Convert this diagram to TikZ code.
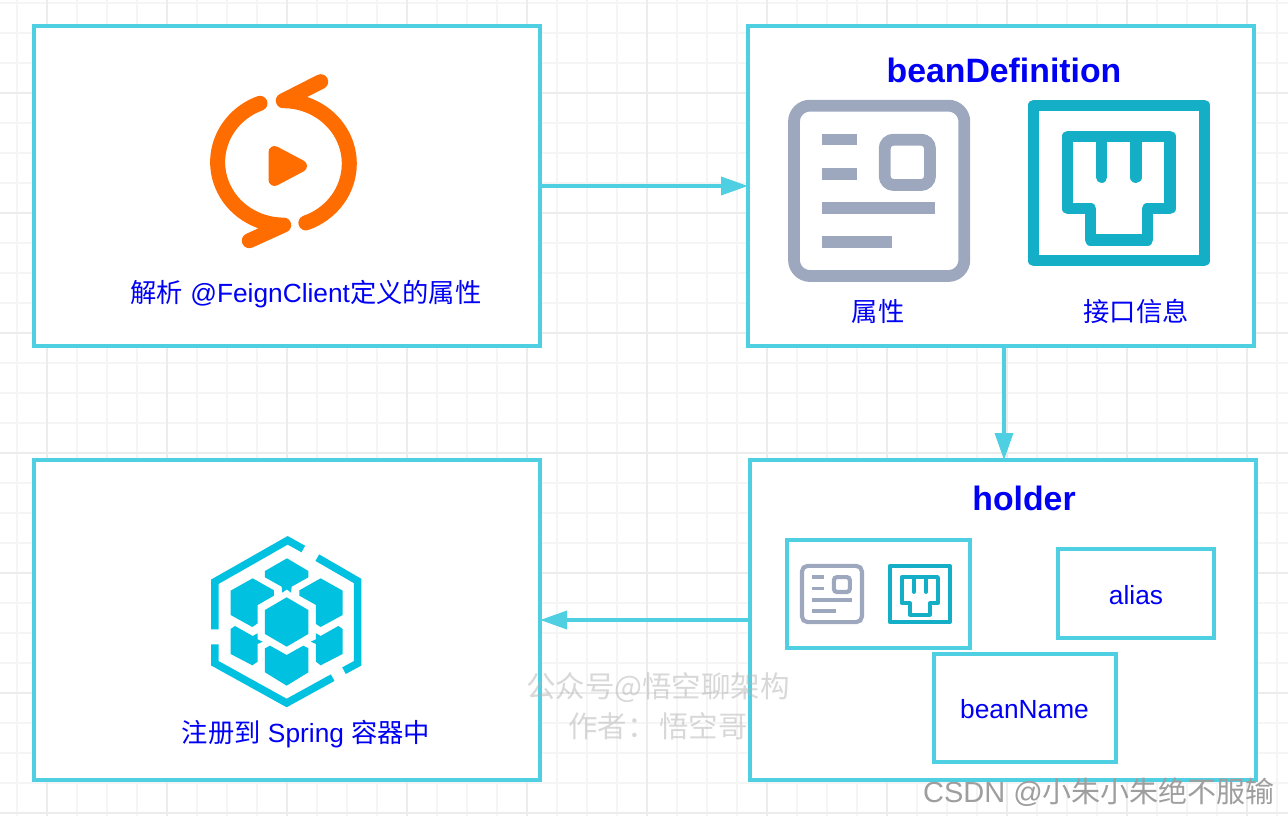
\documentclass[tikz,border=0pt]{standalone}
\usepackage{fontspec}
\setmainfont{Liberation Sans}
\newfontfamily\cjk{Noto Sans CJK SC}
\usetikzlibrary{arrows.meta}
\definecolor{boxcyan}{RGB}{78,208,226}
\definecolor{labelblue}{RGB}{0,0,245}
\definecolor{gridlight}{RGB}{245,245,245}
\definecolor{gridmajor}{RGB}{236,236,236}
\definecolor{playorange}{RGB}{255,108,0}
\definecolor{cubecyan}{RGB}{0,193,224}
\definecolor{attrgray}{RGB}{157,168,191}
\definecolor{plugteal}{RGB}{20,175,198}
\tikzset{
  box/.style={draw=boxcyan, line width=3.5pt, fill=white, inner sep=0pt, outer sep=0pt},
  flow/.style={draw=boxcyan, line width=3.5pt, -{Triangle[length=27pt,width=18pt]}},
  labeltext/.style={text=labelblue, inner sep=0pt, font=\fontsize{26.3}{30}\selectfont},
  titletext/.style={text=labelblue, inner sep=0pt, font=\fontsize{33.8}{38}\selectfont\bfseries},
  watermark/.style={text=black!30, text opacity=.5, inner sep=0pt, font=\fontsize{29.5}{34}\selectfont\cjk}
}
% attribute card icon: scope options, stroke factor
\newcommand{\attricon}[2]{
  \begin{scope}[#1]
    \draw[attrgray, line width=#2*11.8pt, rounded corners=#2*16pt] (72,47) rectangle (583,558);
    \draw[attrgray, line width=#2*11.8pt, rounded corners=#2*9pt] (344,149) rectangle (480,285);
    \fill[attrgray] (156,132) rectangle (260,166);
    \fill[attrgray] (156,235) rectangle (260,269);
    \fill[attrgray] (156,337) rectangle (496,371);
    \fill[attrgray] (156,439) rectangle (365,473);
  \end{scope}
}
% network plug icon: scope options, stroke factor
\newcommand{\plugicon}[2]{
  \begin{scope}[#1]
    \draw[plugteal, line width=#2*11.3pt, line join=round] (791,46) rectangle (1303,512);
    \draw[plugteal, line width=#2*11.3pt, line join=round] (893,139) -- (1200,139) -- (1200,356) -- (1132,356) -- (1132,450) -- (962,450) -- (962,356) -- (893,356) -- cycle;
    \draw[plugteal, line width=#2*11.3pt, line cap=round] (995,150) -- (995,262);
    \draw[plugteal, line width=#2*11.3pt, line cap=round] (1098,150) -- (1098,262);
  \end{scope}
}
\begin{document}
\begin{tikzpicture}[x=1pt,y=-1pt]
  \useasboundingbox (0,0) rectangle (1288,816);

  % Background grid
  \foreach \gx in {16.7,46.7,...,1288} {
    \draw[gridlight, line width=1.7pt] (\gx,0) -- (\gx,816);
  }
  \foreach \gy in {2.7,32.7,...,816} {
    \draw[gridlight, line width=1.7pt] (0,\gy) -- (1288,\gy);
  }
  \foreach \gx in {46.7,166.7,...,1288} {
    \draw[gridmajor, line width=1.7pt] (\gx,0) -- (\gx,816);
  }
  \foreach \gy in {92.7,212.7,...,816} {
    \draw[gridmajor, line width=1.7pt] (0,\gy) -- (1288,\gy);
  }

  % Main boxes
  \node[box, minimum width=506pt, minimum height=320pt] (parsebox) at (287,186) {};
  \node[box, minimum width=506pt, minimum height=320pt] (defbox) at (1001,186) {};
  \node[box, minimum width=506pt, minimum height=320pt] (springbox) at (287,620) {};
  \node[box, minimum width=506pt, minimum height=320pt] (holderbox) at (1003,620) {};

  % Arrows showing flow
  \draw[flow] (parsebox.east) -- (defbox.west);
  \draw[flow] ([xshift=1pt]holderbox.north |- defbox.south) -- ([xshift=1pt]holderbox.north);
  \draw[flow] (holderbox.west) -- (springbox.east);

  % Parse icon
  \draw[playorange, line width=15pt, line cap=round, line join=round] (320.7,81.7) -- (283.3,100.7) arc[start angle=270, end angle=430, x radius=66, y radius=63];
  \draw[playorange, line width=15pt, line cap=round, line join=round] (260,103.3) arc[start angle=249, end angle=90, x radius=66, y radius=63] -- (249.3,240.7);
  \draw[playorange, fill=playorange, line width=12pt, line join=round] (274.5,152) -- (301,166) -- (274.5,180) -- cycle;
  \node[labeltext] (parselabel) at (306,294.5) {{\cjk 解析} @FeignClient{\cjk 定义的属性}};

  % beanDefinition box contents
  \node[titletext] (deftitle) at (1004,70) {beanDefinition};
  \attricon{shift={(770,90)},scale=0.3333}{1}
  \plugicon{shift={(770,90)},scale=0.3333}{1}
  \node[labeltext] (attrlabel) at (878,311.5) {\cjk 属性};
  \node[labeltext] (pluglabel) at (1136,311.5) {\cjk 接口信息};

  % Holder box contents
  \node[titletext] (holdertitle) at (1024,498) {holder};
  \node[box, minimum width=183pt, minimum height=108pt] (iconbox) at (878.5,594) {};
  \attricon{shift={(793.5,560.7)},xscale=0.1174,yscale=0.11}{0.35}
  \plugicon{shift={(797,560.4)},xscale=0.1174,yscale=0.1205}{0.35}
  \node[box, minimum width=156pt, minimum height=89pt] (aliasbox) at (1136,593.5) {};
  \node[labeltext] (aliaslabel) at (1136,595.5) {alias};
  \node[box, minimum width=182pt, minimum height=108pt] (namebox) at (1025,708) {};
  \node[labeltext] (namelabel) at (1024.5,709.5) {beanName};

  % Spring container icon
  \begin{scope}[shift={(190,525)},scale=0.3333]
    \draw[cubecyan, line width=7.5pt, line join=miter] (340,72) -- (293,46) -- (75,170) -- (75,313);
    \draw[cubecyan, line width=7.5pt, line join=miter] (75,358) -- (75,415) -- (290,534) -- (428,458);
    \draw[cubecyan, line width=7.5pt, line join=miter] (462,437) -- (503,415) -- (503,168) -- (382,98);
    \fill[cubecyan] (291,100) -- (355,138) -- (355,157) -- (305,185) -- (303,203) -- (291,193) -- (277,203) -- (275,185) -- (225,157) -- (225,138) -- cycle;
    \fill[cubecyan] (290,217) -- (355,255) -- (355,327) -- (290,365) -- (225,327) -- (225,255) -- cycle;
    \fill[cubecyan] (188,160) -- (252,196) -- (252,212) -- (203,240) -- (203,295) -- (187,306) -- (122,270) -- (122,197) -- cycle;
    \fill[cubecyan] (392,160) -- (458,197) -- (458,270) -- (392,306) -- (378,297) -- (378,240) -- (328,212) -- (328,196) -- cycle;
    \fill[cubecyan] (135,303) -- (188,333) -- (203,325) -- (203,343) -- (218,350) -- (203,357) -- (203,410) -- (187,421) -- (122,387) -- (122,312) -- cycle;
    \fill[cubecyan] (445,303) -- (392,333) -- (378,325) -- (378,343) -- (362,350) -- (378,357) -- (378,410) -- (392,421) -- (458,387) -- (458,312) -- cycle;
    \fill[cubecyan] (240,362) -- (290,390) -- (340,362) -- (355,370) -- (355,442) -- (290,482) -- (225,442) -- (225,370) -- cycle;
  \end{scope}
  \node[labeltext] (springlabel) at (306,734.5) {{\cjk 注册到} Spring {\cjk 容器中}};

  % Watermarks
  \node[watermark] (markone) at (658,688) {公众号@悟空聊架构};
  \node[watermark] (marktwo) at (658,726) {作者：\hspace{3pt}悟空哥};
  \node[inner sep=0pt, text=black!38, font=\fontsize{29}{34}\selectfont] (csdnmark) at (1099,792) {CSDN @{\cjk 小朱小朱绝不服输}};
\end{tikzpicture}
\end{document}
